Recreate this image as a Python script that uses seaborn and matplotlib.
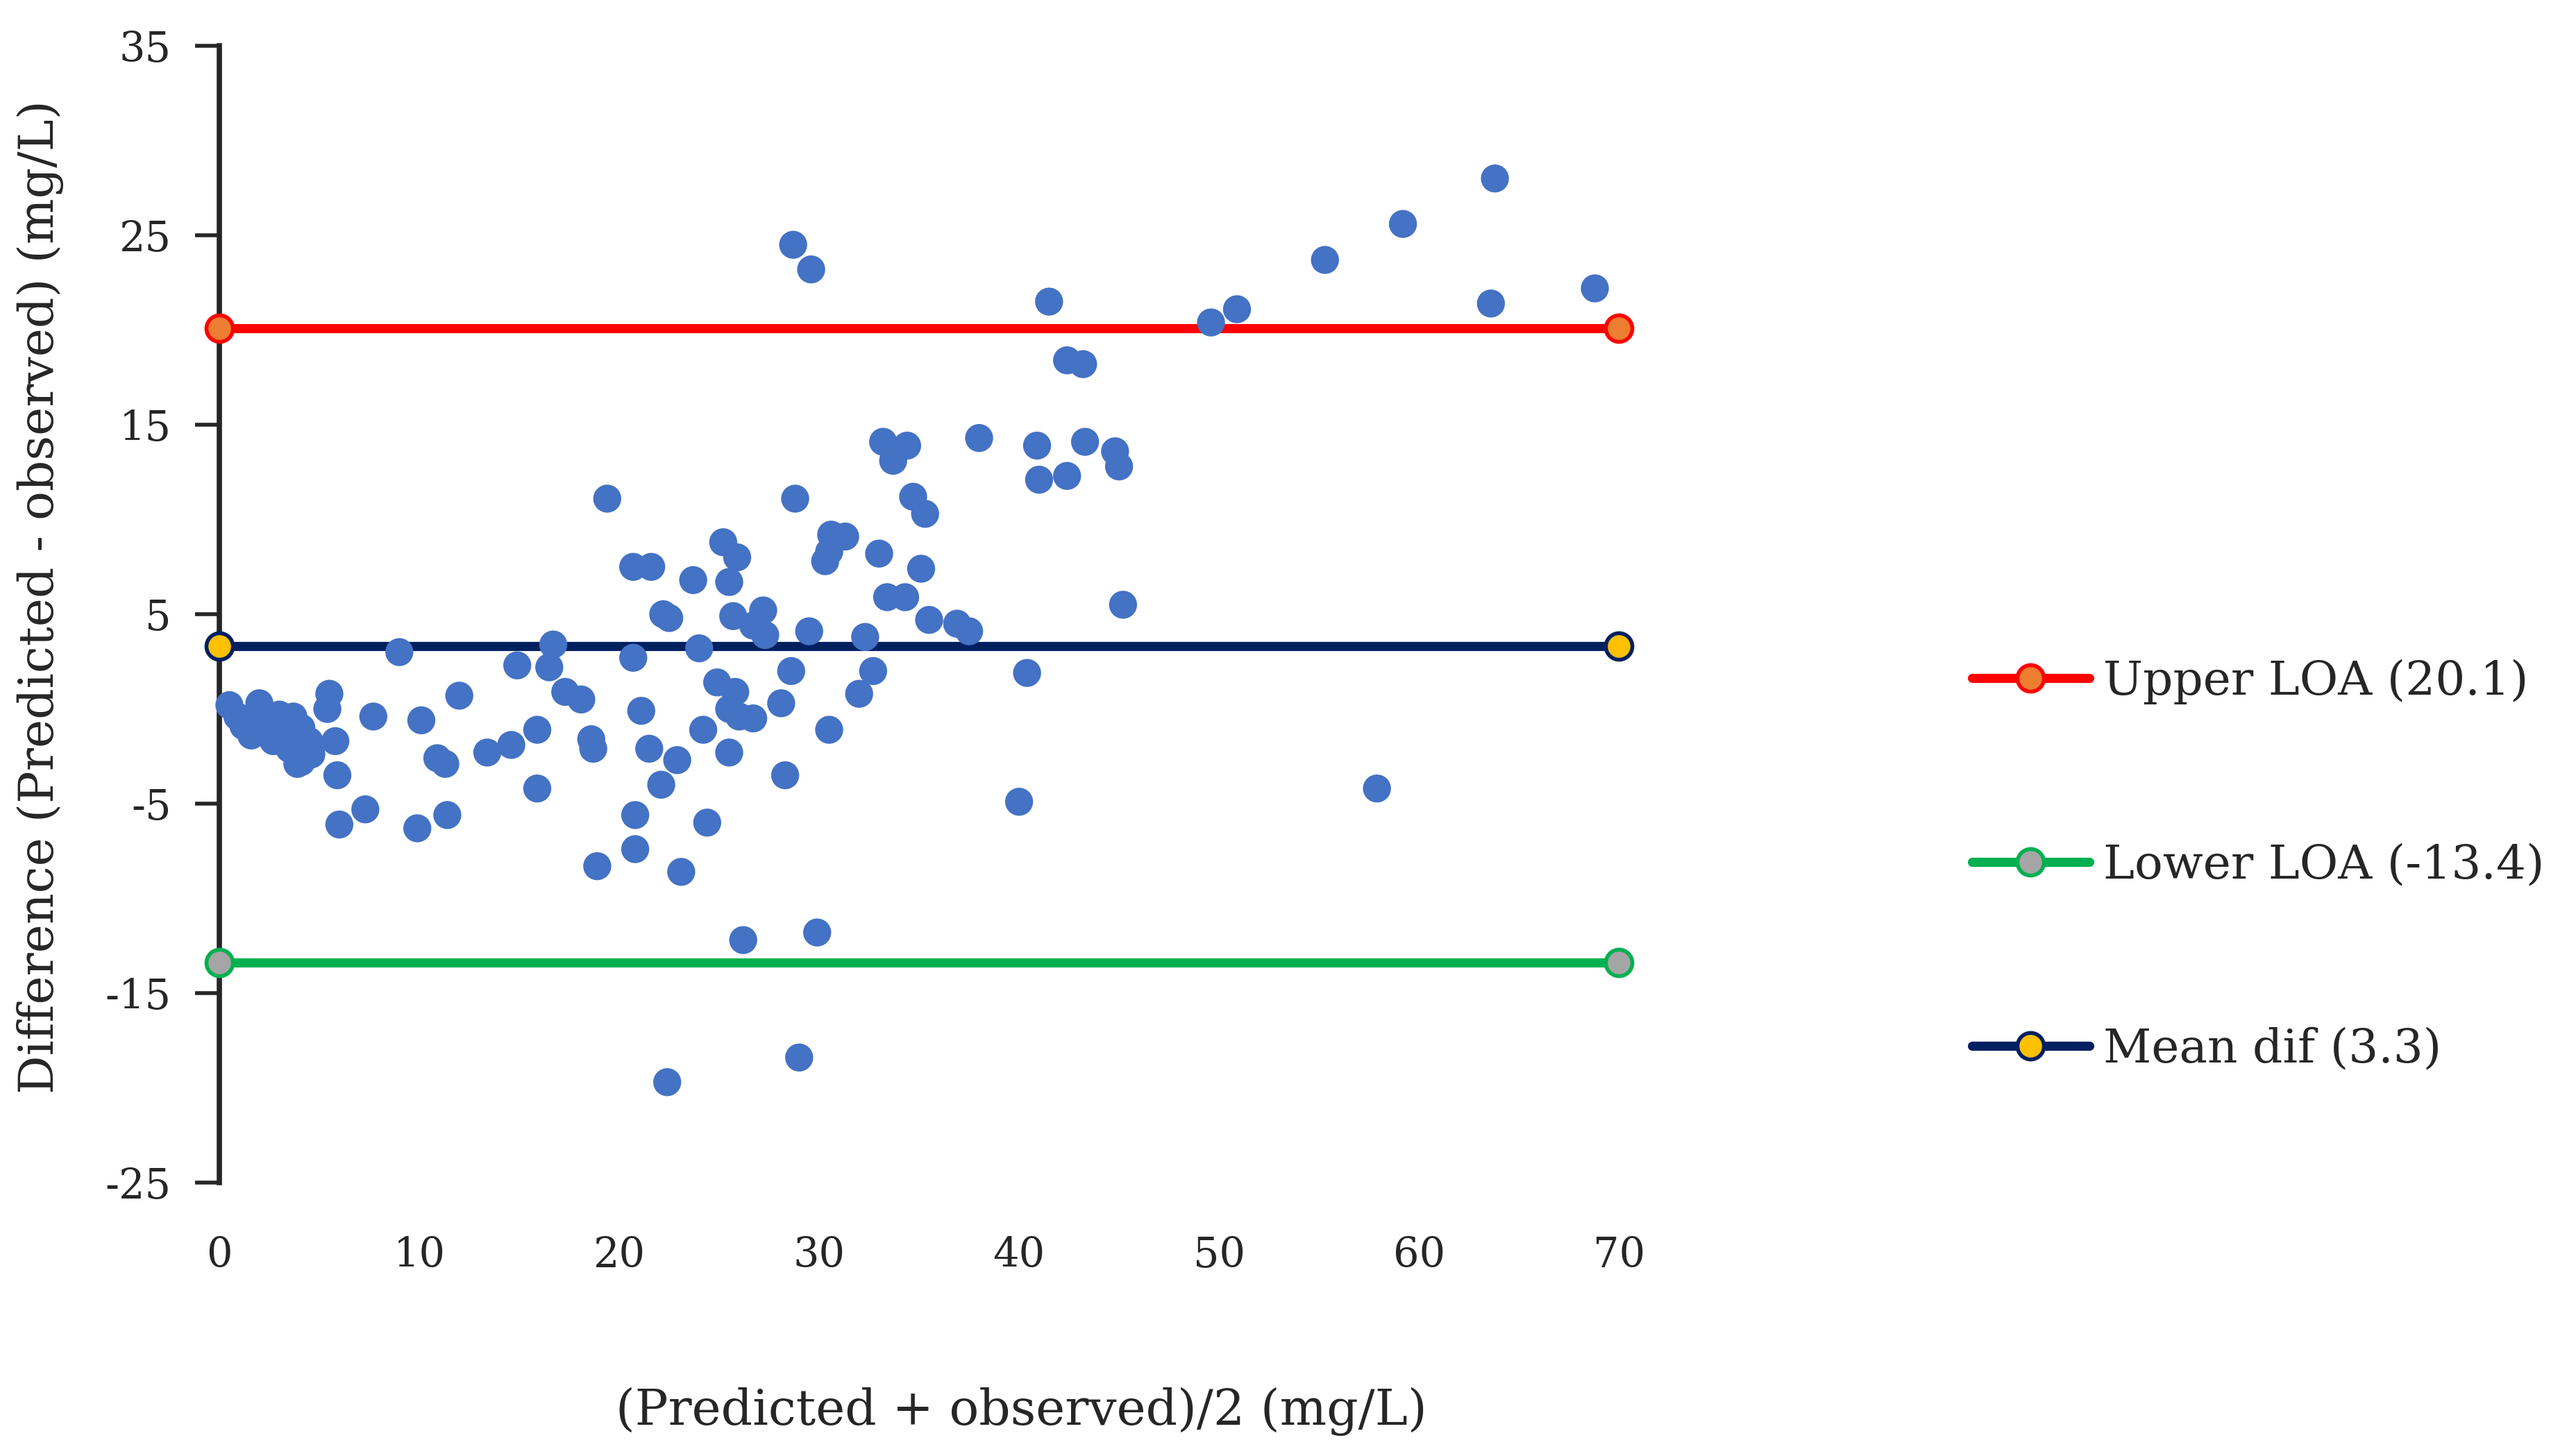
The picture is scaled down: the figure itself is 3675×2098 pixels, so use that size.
import numpy as np
import pandas as pd
import matplotlib
matplotlib.use("Agg")
import matplotlib.pyplot as plt
import seaborn as sns

# Bland-Altman: mean of predicted and observed vs difference (mg/L)
mean_vals = [
    63.8, 59.2, 55.3, 68.8, 63.6, 50.9, 49.6, 28.7, 29.6, 41.5,
    42.4, 43.2, 43.3, 44.8, 45.0, 40.9, 41.0, 42.4, 38.0, 33.2,
    33.7, 34.4, 34.7, 35.3, 28.8, 19.4, 30.6, 31.3, 30.3, 30.5,
    33.0, 35.1, 25.2, 25.9, 20.7, 21.6, 23.7, 25.5, 33.4, 34.3,
    45.2, 22.2, 22.5, 25.7, 27.2, 26.7, 35.5, 36.9, 37.5, 29.5,
    27.3, 32.3, 16.7, 9.0, 24.0, 14.9, 16.5, 20.7, 28.6, 32.7,
    40.4, 24.9, 17.3, 25.8, 5.5, 32.0, 12.0, 18.1, 0.5, 28.1,
    25.5, 26.0, 26.7, 7.7, 10.1, 21.1, 5.4, 30.5, 15.9, 24.2,
    5.8, 14.6, 13.4, 18.6, 18.7, 21.5, 25.5, 22.9, 10.9, 11.3,
    3.9, 5.9, 28.3, 22.1, 15.9, 40.0, 57.9, 7.3, 20.8, 11.4,
    6.0, 24.4, 9.9, 20.8, 18.9, 23.1, 26.2, 29.9, 29.0, 22.4,
    0.9, 1.6, 2.0, 2.4, 2.8, 2.0, 3.3, 2.7, 3.7, 4.1,
    4.5, 3.5, 1.6, 1.2, 3.0, 4.6, 4.1, 2.5, 3.0,
]
diff_vals = [
    28.0, 25.6, 23.7, 22.2, 21.4, 21.1, 20.4, 24.5, 23.2, 21.5,
    18.4, 18.2, 14.1, 13.6, 12.8, 13.9, 12.1, 12.3, 14.3, 14.1,
    13.1, 13.9, 11.2, 10.3, 11.1, 11.1, 9.2, 9.1, 7.8, 8.3,
    8.2, 7.4, 8.8, 8.0, 7.5, 7.5, 6.8, 6.7, 5.9, 5.9,
    5.5, 5.0, 4.8, 4.9, 5.2, 4.4, 4.7, 4.5, 4.1, 4.1,
    3.9, 3.8, 3.4, 3.0, 3.2, 2.3, 2.2, 2.7, 2.0, 2.0,
    1.9, 1.4, 0.9, 0.9, 0.8, 0.8, 0.7, 0.5, 0.2, 0.3,
    0.0, -0.4, -0.5, -0.4, -0.6, -0.1, 0.0, -1.1, -1.1, -1.1,
    -1.7, -1.9, -2.3, -1.6, -2.1, -2.1, -2.3, -2.7, -2.6, -2.9,
    -2.9, -3.5, -3.5, -4.0, -4.2, -4.9, -4.2, -5.3, -5.6, -5.6,
    -6.1, -6.0, -6.3, -7.4, -8.3, -8.6, -12.2, -11.8, -18.4, -19.7,
    -0.4, -0.6, 0.3, -0.4, -0.8, -1.1, -1.2, -1.7, -0.4, -1.0,
    -1.7, -2.1, -1.4, -0.9, -0.3, -2.4, -2.8, -1.3, -1.5,
]

line_x = [0, 70]
upper_loa = 20.1
lower_loa = -13.4
mean_dif = 3.3

x_ticks = [0, 10, 20, 30, 40, 50, 60, 70]
y_ticks = [-25, -15, -5, 5, 15, 25, 35]

df = pd.DataFrame({"mean": mean_vals, "diff": diff_vals})

sns.set_style("white")
plt.rcParams["font.family"] = ["DejaVu Serif"]
plt.rcParams["axes.unicode_minus"] = False

fig = plt.figure(figsize=(14.7, 8.392), dpi=250)
ax = fig.add_axes([0.086, 0.1878, 0.5486, 0.7807])

# limit lines
limits = [
    (f"Upper LOA ({upper_loa})", upper_loa, "#FF0000", "#ED7D31"),
    (f"Lower LOA ({lower_loa})", lower_loa, "#00B050", "#A5A5A5"),
    (f"Mean dif ({mean_dif})", mean_dif, "#002060", "#FFC000"),
]
for label, val, col, face in limits:
    sns.lineplot(x=line_x, y=[val, val], ax=ax, color=col, linewidth=3.8,
                 marker="o", markersize=11, markerfacecolor=face,
                 markeredgecolor=col, markeredgewidth=1.6, label=label,
                 clip_on=False, zorder=4)

sns.scatterplot(data=df, x="mean", y="diff", ax=ax, color="#4472C4", s=135,
                edgecolor="none", clip_on=False, zorder=5, legend=False)

ax.set_xlim(0, 70)
ax.set_ylim(-25, 35)
ax.set_xticks(x_ticks)
ax.set_yticks(y_ticks)
ax.set_xticklabels([str(t) for t in x_ticks])
ax.set_yticklabels([str(t) for t in y_ticks])

for side in ["top", "right", "bottom"]:
    ax.spines[side].set_visible(False)
ax.spines["left"].set_color("#262626")
ax.spines["left"].set_linewidth(2.2)

ax.tick_params(axis="y", left=True, direction="out", length=10, width=1.6,
               color="#262626", pad=10, labelsize=17, labelcolor="#262626")
ax.tick_params(axis="x", bottom=False, length=0, pad=22, labelsize=17,
               labelcolor="#262626")

ax.set_xlabel("(Predicted + observed)/2 (mg/L)", fontsize=20.5, color="#262626")
ax.set_ylabel("Difference (Predicted - observed) (mg/L)", fontsize=20,
              color="#262626")
ax.xaxis.set_label_coords(0.573, -0.18)
ax.yaxis.set_label_coords(-0.111, 0.515)

ax.legend(loc="center left", bbox_to_anchor=(0.773, 0.4056),
          bbox_transform=fig.transFigure, frameon=False, fontsize=19.5,
          handlelength=2.5, handletextpad=0.3, labelspacing=2.95,
          borderpad=0, borderaxespad=0)

fig.savefig("out.png", dpi=250, facecolor="white")
